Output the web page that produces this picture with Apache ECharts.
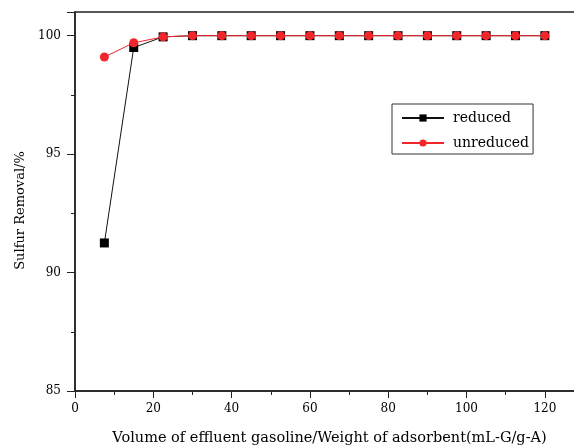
<!DOCTYPE html>
<html>
<head>
<meta charset="utf-8">
<script src="https://cdn.jsdelivr.net/npm/echarts@6/dist/echarts.min.js"></script>
<style>
  html, body { margin: 0; padding: 0; background: #fff; }
  #chart { width: 574px; height: 448px; }
</style>
</head>
<body>
<div id="chart"></div>
<script>
const volume = [7.5, 15, 22.5, 30, 37.5, 45, 52.5, 60, 67.5, 75, 82.5, 90, 97.5, 105, 112.5, 120];
const reduced = [91.25, 99.5, 99.95, 100, 100, 100, 100, 100, 100, 100, 100, 100, 100, 100, 100, 100];
const unreduced = [99.1, 99.7, 99.95, 100, 100, 100, 100, 100, 100, 100, 100, 100, 100, 100, 100, 100];

const font = '"DejaVu Serif", "Liberation Serif", serif';
const axisColor = '#222';

const chart = echarts.init(document.getElementById('chart'));
chart.setOption({
  animation: false,
  textStyle: { fontFamily: font },
  grid: {
    left: 75, top: 12, width: 509, bottom: 57,
    outerBoundsMode: 'none', containLabel: false,
    show: true, borderColor: axisColor, borderWidth: 1.5
  },
  legend: {
    left: 392, top: 104,
    orient: 'vertical',
    itemWidth: 42, itemHeight: 9, itemGap: 11,
    padding: [7, 4, 4, 9],
    borderColor: '#333', borderWidth: 1,
    textStyle: { fontFamily: font, fontSize: 14, color: '#000', padding: [0, 0, 0, 4] },
    data: ['reduced', 'unreduced']
  },
  xAxis: {
    type: 'value', min: 0, max: 130, interval: 20,
    name: 'Volume of effluent gasoline/Weight of adsorbent(mL-G/g-A)',
    nameLocation: 'middle', nameGap: 40,
    nameTextStyle: { fontFamily: font, fontSize: 14.5, color: '#000' },
    axisLine: { lineStyle: { color: axisColor, width: 1.5 } },
    axisTick: { show: true, inside: false, length: 7, lineStyle: { color: axisColor } },
    minorTick: { show: true, splitNumber: 2, length: 4, lineStyle: { color: axisColor } },
    axisLabel: { fontFamily: font, fontSize: 12, color: '#000', margin: 12,
      formatter: v => (v > 120 ? '' : v) },
    splitLine: { show: false }
  },
  yAxis: {
    type: 'value', min: 85, max: 101, interval: 5,
    name: 'Sulfur Removal/%',
    nameLocation: 'middle', nameGap: 48,
    nameTextStyle: { fontFamily: font, fontSize: 13, color: '#000', padding: [0, 18, 0, 0] },
    axisLine: { lineStyle: { color: axisColor, width: 1.5 } },
    axisTick: { show: true, inside: false, length: 8, lineStyle: { color: axisColor } },
    minorTick: { show: true, splitNumber: 2, length: 4, lineStyle: { color: axisColor } },
    axisLabel: { fontFamily: font, fontSize: 12, color: '#000', margin: 14,
      formatter: v => (v > 100 ? '' : v) },
    splitLine: { show: false }
  },
  series: [
    {
      name: 'reduced', type: 'line',
      data: volume.map((x, i) => [x, reduced[i]]),
      symbol: 'rect', symbolSize: 9,
      itemStyle: { color: '#000' },
      lineStyle: { color: '#111', width: 1 },
      z: 2
    },
    {
      name: 'unreduced', type: 'line',
      data: volume.map((x, i) => [x, unreduced[i]]),
      symbol: 'circle', symbolSize: 9,
      itemStyle: { color: '#f0262a' },
      lineStyle: { color: '#f0262a', width: 1 },
      z: 3
    }
  ]
});
</script>
</body>
</html>
